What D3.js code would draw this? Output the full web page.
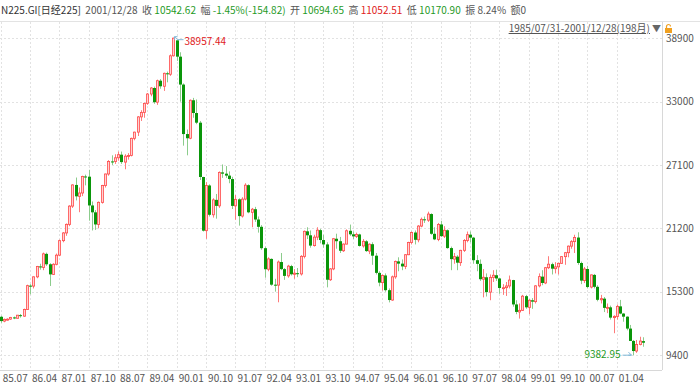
<!DOCTYPE html>
<html><head><meta charset="utf-8">
<script src="https://cdn.jsdelivr.net/npm/d3@7"></script>
<style>
html,body{margin:0;padding:0;background:#fff;}
svg{display:block;font-family:"Noto Sans CJK SC","Noto Sans",sans-serif;}
</style></head>
<body><svg id="c" width="700" height="385"></svg>
<script>
// ---------- data ----------
const startYear = 1985, startMonth = 7;   // first monthly candle 1985/07, 198 months
const open = [12960,12560,12720,12740,12900,12820,13110,13020,13640,15860,15820,16680,17650,17560,18820,17850,16910,17850,
18700,20050,20770,21570,23270,25240,24180,24490,26030,26010,23330,22690,
21560,23620,25180,26260,27430,27420,27770,28060,27370,27920,27990,29580,
30160,31580,31990,32840,33710,34270,32950,34950,34430,35640,35550,37270,
38710,37190,34590,29980,29590,33130,31940,31040,25980,20980,25190,22460,
23850,23290,26410,26290,26110,25790,23290,23900,22340,23920,25220,22690,
22980,22020,21340,19350,17390,18350,15950,15910,18060,17400,16770,17680,
16920,17020,16950,18590,20920,20550,19590,20380,21030,20110,19700,16410,
17420,20230,20000,19110,19730,20970,20640,20450,20630,19560,19990,19080,
19720,18650,17050,16140,16810,15440,14520,16680,18120,17910,17650,18740,
19870,20810,20130,21410,22040,21960,22530,20690,20170,21560,20470,21020,
19360,18330,18560,18000,19150,20070,20610,20330,18230,17890,16460,16640,
15260,16630,16830,16530,15640,15670,15830,16380,14110,13410,13560,14880,
13840,14500,14370,15840,16700,16110,17530,17860,17440,17610,17940,18560,
18930,19540,19960,20340,17970,16330,17410,15730,16860,15750,14540,14650,
13790,13840,12880,13000,13930,13260,12970,11860,10710,9770,10370,10694.65];
const high = [13050,12800,12820,12950,12980,13130,13220,13720,15950,16000,16720,17700,17900,18940,18940,17950,17950,18850,
20150,20850,21650,23350,25300,25930,25000,26100,26200,26650,23700,22900,
23700,25250,26300,27550,28000,28100,28350,28350,28100,28200,29650,30200,
31650,32200,32900,33800,34350,34400,35050,35100,35700,35800,37400,38957.44,
38710,37600,34700,30400,33200,33350,33200,31200,26000,25500,25300,24000,
24400,26500,27150,27000,26500,26000,24300,24000,24100,25400,25300,23100,
23200,22300,21500,19500,18500,18400,16500,18200,18900,17500,17800,17800,
17400,17500,18700,21000,21300,21000,20600,21300,21150,20600,19900,17500,
20300,20700,20400,19800,21100,21550,20900,20800,20700,20200,20100,19800,
19900,18900,17200,16900,17000,15600,16800,18200,18500,18300,18800,19950,
20900,21000,21500,22200,22300,22750,22600,21300,21700,21900,21400,21100,
19500,18900,18700,19200,20200,20900,20900,20400,18700,18300,17400,17000,
16900,17300,17350,16600,16000,16200,16800,16400,14500,14200,15000,15000,
14600,14700,15900,17000,17300,17600,18600,18000,18050,18000,18600,19000,
19600,20100,20600,20830,18100,17600,17700,16900,16950,15900,15000,14800,
14200,14000,13100,14100,14530,13300,13000,12200,10800,10800,11100,11052.51];
const low = [12400,12450,12600,12680,12740,12800,12880,12960,13600,15050,15600,16550,17350,17300,17700,15830,16850,17750,
18600,19900,20500,21400,23100,23800,22700,24200,25200,21910,21000,21050,
21200,23500,25000,26100,27100,27200,27500,27200,26700,27600,27900,29400,
29800,31200,31500,32700,33500,32800,32700,34200,34000,34800,35400,37200,
36800,33000,28900,28000,29500,31500,30900,25700,20900,20220,22300,22200,
22100,23100,25900,25900,25400,23000,22000,21450,22200,23800,22600,21300,
21800,20800,19200,16600,17200,15850,15300,14310,17300,16400,16600,16800,
16500,16650,16800,18400,20200,19400,19500,20100,19800,19400,15700,16300,
17300,19300,18900,19000,19700,20500,20200,20300,19500,19400,19000,18800,
17800,16900,15800,15400,15300,14300,14450,16500,17200,17300,17400,18700,
19700,19700,19900,21300,21700,21800,20600,20100,20000,20400,20300,19300,
17300,17900,17300,17700,19000,19900,19900,17900,17200,16300,14770,14850,
14500,16200,16300,15100,15000,14900,15600,13900,13200,12790,13500,13700,
13200,13700,14200,15700,15900,16000,17400,16900,17000,16900,17900,17800,
18500,19300,18900,17800,16000,16100,15600,15600,15600,14400,14200,13400,
13300,12700,11430,12700,13200,12500,11700,10700,9382.95,9600,10300,10170.90];
const close = [12560,12720,12740,12900,12820,13110,13020,13640,15860,15820,16680,17650,17560,18820,17850,16910,17850,18700,
20050,20770,21570,23270,25240,24180,24490,26030,26010,23330,22690,21560,
23620,25180,26260,27430,27420,27770,28060,27370,27920,27990,29580,30160,
31580,31990,32840,33710,34270,32950,34950,34430,35640,35550,37270,38916,
37190,34590,29980,29590,33130,31940,31040,25980,20980,25190,22460,23850,
23290,26410,26290,26110,25790,23290,23900,22340,23920,25220,22690,22980,
22020,21340,19350,17390,18350,15950,15910,18060,17400,16770,17680,16920,
17020,16950,18590,20920,20550,19590,20380,21030,20110,19700,16410,17420,
20230,20000,19110,19730,20970,20640,20450,20630,19560,19990,19080,19720,
18650,17050,16140,16810,15440,14520,16680,18120,17910,17650,18740,19870,
20810,20130,21410,22040,21960,22530,20690,20170,21560,20470,21020,19360,
18330,18560,18000,19150,20070,20610,20330,18230,17890,16460,16640,15260,
16630,16830,16530,15640,15670,15830,16380,14110,13410,13560,14880,13840,
14500,14370,15840,16700,16110,17530,17860,17440,17610,17940,18560,18930,
19540,19960,20340,17970,16330,17410,15730,16860,15750,14540,14650,13790,
13840,12880,13000,13930,13260,12970,11860,10710,9770,10370,10697.44,10542.62];
const xTickLabels = ["85.07","86.04","87.01","87.10","88.07","89.04","90.01","90.10","91.07","92.04","93.01","93.10",
"94.07","95.04","96.01","96.10","97.07","98.04","99.01","99.10","00.07","01.04"];
const yTickValues = [38900,33000,27100,21200,15300,9400];
const peakValue = 38957.44, lowValue = 9382.95;
const header = [
  {t:"N225.GI[日经225]", c:"#333"},
  {t:"  2001/12/28  ", c:"#555"},
  {t:"收 ", c:"#555"},{t:"10542.62", c:"#1f9a1f"},
  {t:"  幅 ", c:"#555"},{t:"-1.45%(-154.82)", c:"#1f9a1f"},
  {t:"  开 ", c:"#555"},{t:"10694.65", c:"#1f9a1f"},
  {t:"  高 ", c:"#555"},{t:"11052.51", c:"#e02020"},
  {t:"  低 ", c:"#555"},{t:"10170.90", c:"#1f9a1f"},
  {t:"  振 ", c:"#555"},{t:"8.24%", c:"#555"},
  {t:"  额", c:"#555"},{t:"0", c:"#555"}
];
const rangeLabel = "1985/07/31-2001/12/28(198月)";

// ---------- build ----------
const months = close.map((_, i) => {
  const m = startMonth - 1 + i, yy = (startYear + Math.floor(m / 12)) % 100, mm = m % 12 + 1;
  return String(yy).padStart(2, "0") + "." + String(mm).padStart(2, "0");
});
const data = months.map((d, i) => ({d, o: open[i], h: high[i], l: low[i], c: close[i]}));

const svg = d3.select("#c");
const W = 700, plotRight = 662, plotTop = 22, plotBottom = 370;
const x = d3.scaleBand().domain(months).range([-0.93, 644.55]).padding(0);
const cx = d => x(d) + x.bandwidth() / 2;
const y = d3.scaleLinear().domain([9400, 38900]).range([355, 38.3]);

// header
const ht = svg.append("text").attr("x", 1).attr("y", 14).attr("font-size", 10);
header.forEach(s => ht.append("tspan").attr("fill", s.c).attr("xml:space", "preserve").text(s.t));
svg.append("line").attr("x1", 0).attr("x2", W).attr("y1", 21.5).attr("y2", 21.5).attr("stroke", "#e3e3e3");

// gridlines
const g = svg.append("g");
xTickLabels.forEach(lbl => {
  const xx = Math.round(cx(lbl)) + 0.5;
  g.append("line").attr("x1", xx).attr("x2", xx).attr("y1", plotTop).attr("y2", plotBottom)
    .attr("stroke", "#e2e2e2").attr("stroke-dasharray", "2,2");
});
yTickValues.forEach(v => {
  const yy = Math.round(y(v)) + 0.5;
  g.append("line").attr("x1", 0).attr("x2", plotRight).attr("y1", yy).attr("y2", yy)
    .attr("stroke", "#e2e2e2").attr("stroke-dasharray", "2,2");
});

// axes
const yAxis = d3.axisRight(y).tickValues(yTickValues).tickSize(0).tickPadding(4).tickFormat(d3.format("d"));
const ya = svg.append("g").attr("transform", `translate(${plotRight},0)`).call(yAxis);
ya.select(".domain").attr("stroke", "#d8d8d8").attr("d", `M0.5,${plotTop}V${plotBottom}`);
ya.selectAll("text").attr("fill", "#555").attr("font-size", 10).attr("font-family", "'Noto Sans CJK SC',sans-serif");

const xAxis = d3.axisBottom(x).tickValues(xTickLabels).tickSize(0).tickPadding(0);
const xa = svg.append("g").attr("transform", `translate(0,${plotBottom})`).call(xAxis);
xa.select(".domain").attr("stroke", "#d8d8d8").attr("d", `M0,0.5H${plotRight}`);
xa.selectAll(".tick").each(function(lbl) {
  d3.select(this).select("text").attr("text-anchor", "start").attr("x", 2).attr("dy", 0).attr("y", 12)
    .attr("fill", "#555").attr("font-size", 10).attr("font-family", "'Noto Sans CJK SC',sans-serif");
});

// range label row
svg.append("text").attr("x", 650).attr("y", 32).attr("text-anchor", "end")
  .attr("font-size", 10).attr("fill", "#555").attr("text-decoration", "underline").text(rangeLabel);
svg.append("text").attr("x", 652).attr("y", 32).attr("font-size", 9).attr("fill", "#666").text("▼");
// lock icon
const lk = svg.append("g").attr("transform", "translate(665,24)");
lk.append("rect").attr("x", 0).attr("y", 4).attr("width", 7).attr("height", 5).attr("fill", "#f0a020");
lk.append("path").attr("d", "M1.5,4V2.5A2,2 0 0 1 5.5,2.5").attr("fill", "none").attr("stroke", "#f0a020").attr("stroke-width", 1.2);

// candles
const cg = svg.append("g");
data.forEach(d => {
  const up = d.c >= d.o;
  const xc = Math.round(cx(d.d)) + 0.5;
  cg.append("line").attr("x1", xc).attr("x2", xc).attr("y1", y(d.h)).attr("y2", y(d.l))
    .attr("stroke", up ? "#ff7a7a" : "#8ccc8c").attr("stroke-width", 1);
  const top = y(Math.max(d.o, d.c)), bot = y(Math.min(d.o, d.c));
  const hgt = Math.max(1, bot - top);
  if (up) {
    cg.append("rect").attr("x", xc - 1.1).attr("y", top).attr("width", 2.2).attr("height", hgt)
      .attr("fill", "#ffd3d3").attr("stroke", "#ff4a4a").attr("stroke-width", 0.8);
  } else {
    cg.append("rect").attr("x", xc - 1.5).attr("y", top).attr("width", 3).attr("height", hgt)
      .attr("fill", "#0a960a");
  }
});

// peak annotation
const pk = data[high.indexOf(peakValue)];
const px = Math.round(cx(pk.d)) + 0.5, py = y(peakValue);
svg.append("path").attr("d", `M${px + 1},${py - 1}L${px + 4},${py + 2}H${px + 10}M${px + 1},${py - 1}l3,0M${px + 1},${py - 1}l0,3`)
  .attr("fill", "none").attr("stroke", "#7fb8d8").attr("stroke-width", 1);
svg.append("text").attr("x", px + 11).attr("y", py + 7).attr("font-size", 10).attr("fill", "#e02020").text(peakValue.toFixed(2));

// low annotation
const lw = data[low.indexOf(lowValue)];
const lx = Math.round(cx(lw.d)) + 0.5, ly = y(lowValue);
svg.append("path").attr("d", `M${lx - 11},${ly}H${lx - 2}l-3,-3M${lx - 2},${ly}l-3,0`)
  .attr("fill", "none").attr("stroke", "#7fb8d8").attr("stroke-width", 1);
svg.append("text").attr("x", lx - 13).attr("y", ly + 3).attr("text-anchor", "end").attr("font-size", 10)
  .attr("fill", "#1f9a1f").text(lowValue.toFixed(2));
</script></body></html>
